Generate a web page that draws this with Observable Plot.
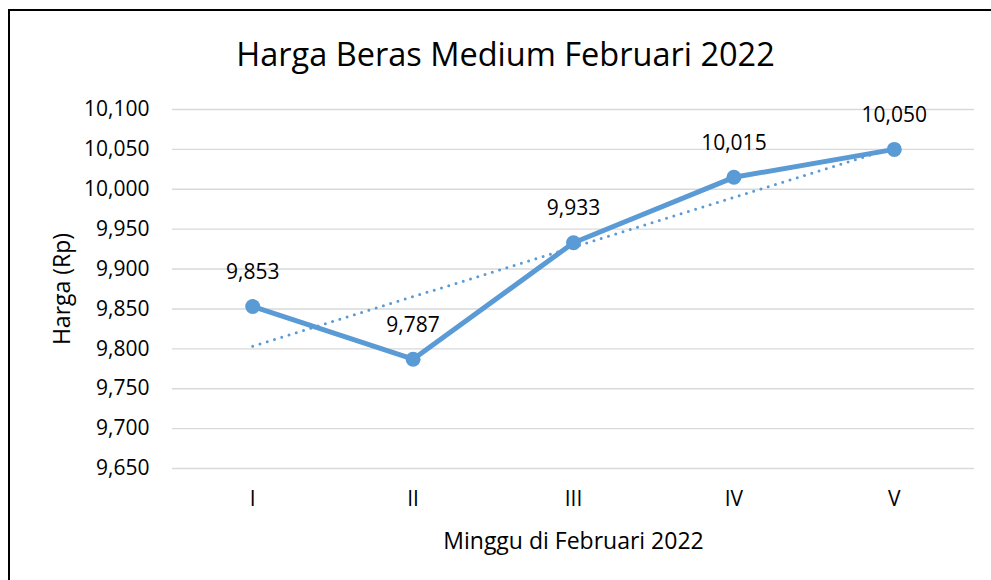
<!DOCTYPE html>
<html>
<head>
<meta charset="utf-8">
<script src="https://cdn.jsdelivr.net/npm/d3@7"></script>
<script src="https://cdn.jsdelivr.net/npm/@observablehq/plot@0.6"></script>
<style>
  html, body { margin: 0; padding: 0; background: #fff; }
  #wrap { position: relative; width: 991px; height: 580px; overflow: hidden; }
  #border { position: absolute; left: 8px; top: 9px; width: 1000px; height: 600px;
            border-left: 2px solid #000; border-top: 2px solid #000; box-sizing: border-box; }
  #chart { position: absolute; left: 0; top: 0; }
</style>
</head>
<body>
<div id="wrap"><div id="border"></div><div id="chart"></div></div>
<script>
const title = "Harga Beras Medium Februari 2022";
const xTitle = "Minggu di Februari 2022";
const yTitle = "Harga (Rp)";
const weeks = ["I", "II", "III", "IV", "V"];
const prices = [9853, 9787, 9933, 10015, 10050];
const yTicks = [9650, 9700, 9750, 9800, 9850, 9900, 9950, 10000, 10050, 10100];

const data = weeks.map((w, i) => ({idx: i + 1, week: w, price: prices[i]}));
const fmt = d3.format(",");
const font = "'Open Sans', sans-serif";
const blue = "#5b9bd5";

const chart = Plot.plot({
  width: 991,
  height: 580,
  marginLeft: 172,
  marginRight: 17,
  marginTop: 109,
  marginBottom: 112,
  style: {fontFamily: font, fontSize: "21px", color: "#000", background: "transparent", overflow: "visible"},
  x: {type: "linear", domain: [0.5, 5.5]},
  y: {domain: [9650, 10100]},
  marks: [
    Plot.gridY(yTicks, {stroke: "#d9d9d9", strokeOpacity: 1, strokeWidth: 1.4}),
    Plot.axisY({ticks: yTicks, tickFormat: fmt, tickSize: 0, tickPadding: 23, label: null, fontSize: 21}),
    Plot.axisX({ticks: data.map(d => d.idx), tickFormat: i => weeks[i - 1], tickSize: 0, tickPadding: 23, label: null, fontSize: 21}),
    Plot.line(data, {x: "idx", y: "price", stroke: blue, strokeWidth: 5, strokeLinejoin: "round"}),
    Plot.dot(data, {x: "idx", y: "price", r: 7.5, fill: blue, stroke: "none"}),
    Plot.linearRegressionY(data, {x: "idx", y: "price", stroke: blue, strokeWidth: 3, ci: 0,
      strokeDasharray: "0 7.6", strokeLinecap: "round"}),
    Plot.text(data, {x: "idx", y: "price", text: d => fmt(d.price), dy: -34, fontSize: 21, fill: "#000"}),
    Plot.text([title], {frameAnchor: "top", dx: -68, dy: -54, lineAnchor: "middle", fontSize: 32.5, fill: "#000"}),
    Plot.text([xTitle], {frameAnchor: "bottom", dy: 73, lineAnchor: "middle", fontSize: 23, fill: "#000"}),
    Plot.text([yTitle], {frameAnchor: "left", dx: -110, rotate: -90, textAnchor: "middle", lineAnchor: "middle", fontSize: 23, fill: "#000"})
  ]
});
document.getElementById("chart").appendChild(chart);
</script>
</body>
</html>
